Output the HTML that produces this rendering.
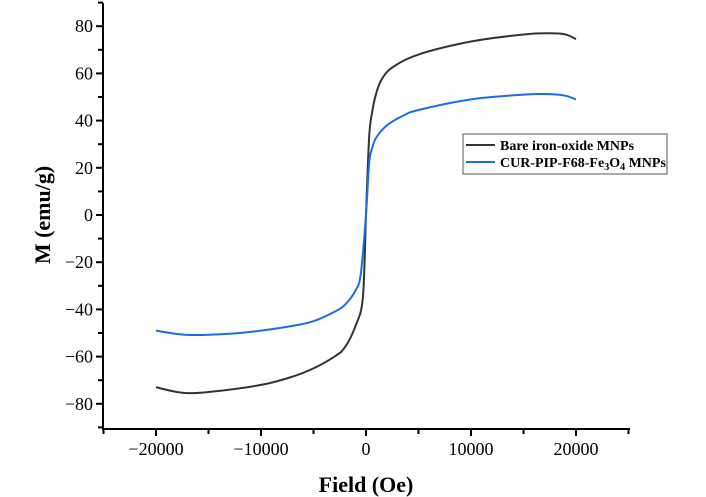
<!DOCTYPE html>
<html><head><meta charset="utf-8"><style>
body{margin:0;background:#fff}
svg{display:block;font-family:"Liberation Serif",serif}
</style></head><body>
<svg id="s" width="706" height="497" xmlns="http://www.w3.org/2000/svg">
<g id="ax" stroke="#000" stroke-width="2" fill="none"></g>
<g id="lab" font-size="18" fill="#000"></g>
<path id="pb" fill="none" stroke="#333" stroke-width="2"/>
<path id="pl" fill="none" stroke="#1a6fe0" stroke-width="2"/>
<text x="366" y="492" text-anchor="middle" font-size="22" font-weight="bold">Field (Oe)</text>
<text transform="translate(50,215) rotate(-90)" text-anchor="middle" font-size="22" font-weight="bold">M (emu/g)</text>
<rect x="463" y="134" width="204" height="40" fill="#fff" stroke="#555" stroke-width="1"/>
<line x1="466" y1="145" x2="495" y2="145" stroke="#333" stroke-width="2"/>
<line x1="466" y1="162" x2="495" y2="162" stroke="#1a6fe0" stroke-width="2"/>
<text x="500" y="150" font-size="14" font-weight="bold">Bare iron-oxide MNPs</text>
<text x="500" y="167" font-size="14" font-weight="bold">CUR-PIP-F68-Fe<tspan font-size="10" dy="3">3</tspan><tspan dy="-3">O</tspan><tspan font-size="10" dy="3">4</tspan><tspan dy="-3"> MNPs</tspan></text>
</svg>
<script>
var X=h=>366+h*0.0105, Y=m=>215-m*2.36;
var ax=document.getElementById('ax'),lab=document.getElementById('lab'),NS='http://www.w3.org/2000/svg';
function el(p,t,a,txt){var e=document.createElementNS(NS,t);for(var k in a)e.setAttribute(k,a[k]);if(txt)e.textContent=txt;p.appendChild(e);}
el(ax,'path',{d:'M103,3V429H630'});
for(var h=-25000;h<=25000;h+=5000){var x=X(h);var maj=h%10000==0;el(ax,'line',{x1:x,y1:429,x2:x,y2:429+(maj?7:5)});if(maj&&h>-25000&&h<25000)el(lab,'text',{x:x,y:455,'text-anchor':'middle'},(h<0?'\u2212':'')+Math.abs(h));}
for(var m=-90;m<=90;m+=10){var y=Y(m);var maj=m%20==0;el(ax,'line',{x1:103,y1:y,x2:103-(maj?7:5),y2:y});if(maj&&m>=-80&&m<=80)el(lab,'text',{x:93,y:y+6,'text-anchor':'end'},(m<0?'\u2212':'')+Math.abs(m));}
function path(pts){var p=pts.map(q=>[X(q[0]),Y(q[1])]);var d='M'+p[0];for(var i=0;i<p.length-1;i++){var p0=p[i-1]||p[i],p1=p[i],p2=p[i+1],p3=p[i+2]||p2;d+='C'+(p1[0]+(p2[0]-p0[0])/6)+','+(p1[1]+(p2[1]-p0[1])/6)+' '+(p2[0]-(p3[0]-p1[0])/6)+','+(p2[1]-(p3[1]-p1[1])/6)+' '+p2;}return d;}
var b=[[-20000,-73],[-17500,-75.3],[-15000,-75],[-10000,-72],[-7000,-68.5],[-5000,-65],[-3000,-60],[-2000,-56],[-1000,-47],[-300,-35],[0,0],[300,33],[600,44],[1000,52],[1500,57.5],[2500,62.5],[5000,68],[10000,73.5],[15000,76.5],[17500,77],[19000,76.5],[20000,74.5]];
var l=[[-20000,-49],[-17000,-50.8],[-13000,-50.3],[-10000,-49],[-7000,-47],[-5000,-45],[-3000,-41],[-2000,-38],[-1000,-32],[-500,-25],[0,0],[300,22],[600,28.5],[1000,33],[2000,38],[3500,42],[5000,44.5],[10000,49],[15000,51],[17500,51.2],[19000,50.5],[20000,49]];
document.getElementById('pb').setAttribute('d',path(b));
document.getElementById('pl').setAttribute('d',path(l));
</script>
</body></html>
